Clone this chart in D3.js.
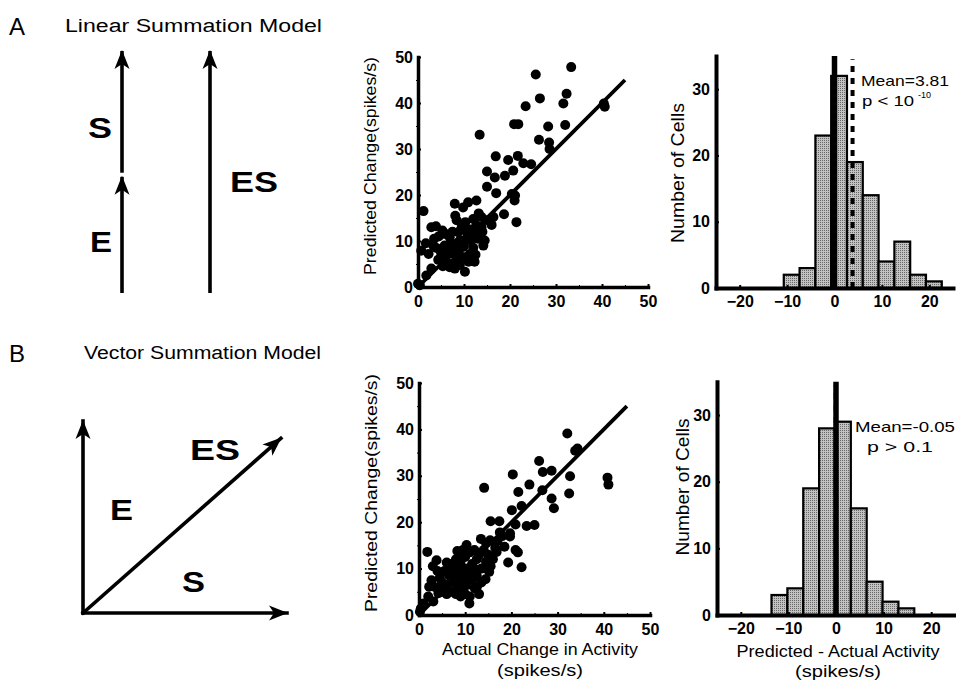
<!DOCTYPE html>
<html>
<head>
<meta charset="utf-8">
<script src="https://cdn.jsdelivr.net/npm/d3@7/dist/d3.min.js"></script>
<style>
body { margin: 0; background: #fff; }
svg text { font-family: "Liberation Sans", Arial, Helvetica, sans-serif; fill: #000; }
.tick text { font-weight: bold; font-size: 16px; }
</style>
</head>
<body>
<svg id="fig" width="956" height="683"></svg>
<script>
// ---- data ----
// A: linear summation, [actual change, predicted change] (spikes/s)
var linearPts = [
  [33.3,47.8],[25.6,46.2],[26.5,41.0],[23.4,39.3],[32.3,42.0],[31.6,39.9],[32.0,35.2],[28.3,34.9],
  [20.9,35.4],[21.8,35.4],[13.4,33.1],[26.3,32.0],[28.5,31.4],[28.6,30.0],[40.6,39.2],[40.4,39.9],
  [16.9,28.4],[19.6,27.6],[21.7,28.5],[22.9,26.9],[24.6,26.7],[15.0,25.1],[16.7,23.8],[18.9,24.2],
  [20.7,25.3],[15.0,21.8],[17.0,20.4],[20.4,20.2],[21.0,18.8],[21.1,19.9],[21.4,14.1],[18.7,15.8],
  [16.4,15.2],[1.2,16.5],[8.0,18.1],[9.8,17.3],[10.9,18.4],[12.7,18.8],[13.2,16.0],[8.1,15.5],
  [8.4,14.5],[10.3,14.1],[12.0,14.8],[14.5,10.1],[14.2,9.0],[10.2,3.3],[2.9,13.0],[3.9,13.2],
  [5.3,12.3],[1.7,9.5],[0.7,7.9],[3.3,9.0],[2.3,7.2],[4.4,5.9],[5.4,4.5],[2.9,4.0],[1.8,2.5],
  [0.0,0.7],[0.4,0.4],
  [6.5,8.7],[7.6,7.2],[8.4,5.8],[6.9,4.3],[9.1,10.1],[9.8,8.7],[10.5,6.5],[11.3,7.2],[11.6,10.1],
  [12.3,11.6],[11.6,6.5],[6.2,6.9],[5.8,9.0],[8.7,11.9],[10.2,12.3],[6.9,10.8],[7.6,5.1],[9.1,4.8],
  [13.8,13.0],[12.7,13.4],[13.8,15.2],[7.0,9.5],[8.0,8.0],[9.0,7.0],[10.0,9.0],[11.0,11.0],
  [7.5,12.0],[9.5,13.0],[11.5,12.5],[12.0,8.5],[6.0,6.0],[5.0,7.5],[4.0,8.5],[8.5,9.5],[10.5,10.5],
  [9.0,6.0],[7.0,4.5],[11.0,5.5],[12.5,7.0],[13.0,10.5],[14.0,12.0],[15.0,14.5],[16.0,13.5],
  [4.5,11.0],[6.0,11.5],[3.5,10.5],[8.0,4.0],[12.3,5.5]
];
// B: vector summation
var vectorPts = [
  [32.1,39.1],[33.8,35.4],[34.3,35.9],[26.0,33.2],[26.8,30.8],[28.7,31.1],[32.7,29.9],[32.5,26.2],
  [40.8,29.6],[41.0,28.1],[20.3,30.3],[23.9,28.1],[26.7,26.9],[21.5,26.5],[22.2,23.5],[28.7,25.1],
  [29.2,23.0],[14.1,27.4],[20.1,22.6],[23.3,19.2],[25.0,19.4],[20.9,19.5],[19.7,17.6],[19.7,16.9],
  [20.9,14.0],[21.4,13.5],[22.2,10.3],[19.3,11.3],[17.5,17.8],[15.5,20.2],[17.4,20.2],[18.5,14.7],
  [16.8,13.6],[15.4,16.1],[13.4,16.4],[14.4,7.7],[15.2,9.3],[10.9,2.5],[12.1,5.7],[1.8,13.6],
  [3.8,11.8],[8.3,13.8],[9.2,12.9],[10.3,15.1],[6.0,11.3],[2.7,7.5],[2.2,6.1],[0.4,1.4],[0.2,0.7],
  [3.1,2.9],[4.2,4.7],
  [4.5,8.0],[5.5,9.5],[6.5,8.5],[7.5,7.0],[8.5,6.0],[9.5,5.5],[10.5,6.5],[11.5,7.5],[12.5,8.5],
  [13.5,10.0],[14.5,11.5],[7.0,5.0],[8.0,4.5],[9.0,4.0],[10.0,4.5],[6.0,6.5],[5.0,7.0],[7.5,9.0],
  [8.5,10.0],[9.5,9.0],[10.5,10.0],[11.5,11.0],[12.5,12.0],[9.0,11.0],[10.0,12.5],[11.0,13.5],
  [12.0,14.0],[13.0,13.0],[14.0,14.0],[15.0,13.0],[16.5,14.5],[8.0,8.0],[9.0,7.0],[10.0,8.0],
  [11.0,9.0],[12.0,10.0],[6.5,10.0],[4.0,9.5],[3.0,10.5],[5.0,5.0],[6.0,4.5],[11.0,4.0],[12.5,6.0],
  [13.5,7.0],[3.5,6.0],[7.0,11.0],[8.0,12.0],[15.5,10.5],[16.0,12.0],[17.0,16.0],[18.0,17.0],
  [13.0,4.5],[2.0,4.0],[1.0,2.5],[14.5,15.5],[9.5,14.0]
];
var fitEnd = 45;                      // unity line drawn 0..45
var scatterTicks = [0, 10, 20, 30, 40, 50];
var scatterMinor = [5, 15, 25, 35, 45];

// histograms of predicted - actual
var binWidth = 10 / 3;
var linearBinStart = -10.7;
var linearCounts = [2, 3, 23, 32, 19, 14, 4, 7, 2, 1];
var vectorBinStart = -13.55;
var vectorCounts = [3, 4, 19, 28, 29, 16, 5, 2, 1];
var linearMean = 3.81, vectorMean = -0.05;
var histXTicks = [-20, -10, 0, 10, 20];
var histYTicks = [0, 10, 20, 30];
var histYMinor = [5, 15, 25];

var svg = d3.select("#fig");
svg.append("rect").attr("width", 956).attr("height", 683).attr("fill", "#fff");

var defs = svg.append("defs");
// halftone grey used for the bars
var pat = defs.append("pattern").attr("id", "stip")
    .attr("width", 2).attr("height", 2).attr("patternUnits", "userSpaceOnUse");
pat.append("rect").attr("width", 2).attr("height", 2).attr("fill", "#c2c2c2");
pat.append("rect").attr("width", 1).attr("height", 1).attr("fill", "#686868");

defs.append("marker").attr("id", "head")
    .attr("markerUnits", "userSpaceOnUse")
    .attr("viewBox", "0 -8 20 16")
    .attr("refX", 18).attr("refY", 0)
    .attr("markerWidth", 20).attr("markerHeight", 16)
    .attr("orient", "auto")
    .append("path")
    .attr("d", "M0,-7.5L19,0L0,7.5L5,0Z")
    .attr("fill", "#000");

function styleAxis(sel, w) {
  sel.select(".domain").attr("stroke-width", w).attr("stroke-linecap", "square");
  sel.selectAll(".tick line").attr("stroke-width", 2);
}

function drawScatter(pts, xRange, yRange, yLabelX, yLabelLen) {
  var x = d3.scaleLinear().domain([0, 50]).range(xRange);
  var y = d3.scaleLinear().domain([0, 50]).range(yRange);
  var g = svg.append("g");

  g.append("line")
    .attr("x1", x(0)).attr("y1", y(0))
    .attr("x2", x(fitEnd)).attr("y2", y(fitEnd))
    .attr("stroke", "#000").attr("stroke-width", 3.8);

  g.append("g").selectAll("circle")
    .data(pts)
    .join("circle")
    .attr("cx", d => x(d[0]))
    .attr("cy", d => y(d[1]))
    .attr("r", 5)
    .attr("fill", "#000");

  var xa = g.append("g").attr("transform", "translate(0," + y(0) + ")")
    .call(d3.axisBottom(x).tickValues(scatterTicks).tickSize(-3).tickSizeOuter(0).tickPadding(9));
  styleAxis(xa, 3.5);
  g.append("g").attr("transform", "translate(0," + y(0) + ")")
    .call(d3.axisBottom(x).tickValues(scatterMinor).tickSize(-2).tickFormat(""))
    .call(s => s.select(".domain").remove());

  var ya = g.append("g").attr("transform", "translate(" + x(0) + ",0)")
    .call(d3.axisLeft(y).tickValues(scatterTicks).tickSize(-3).tickSizeOuter(0).tickPadding(5));
  styleAxis(ya, 3.5);
  g.append("g").attr("transform", "translate(" + x(0) + ",0)")
    .call(d3.axisLeft(y).tickValues(scatterMinor).tickSize(2).tickFormat(""))
    .call(s => s.select(".domain").remove());

  g.append("text")
    .attr("transform", "translate(" + yLabelX + "," + ((yRange[0] + yRange[1]) / 2 - 6) + ") rotate(-90)")
    .attr("text-anchor", "middle")
    .attr("font-size", 17)
    .attr("textLength", yLabelLen).attr("lengthAdjust", "spacingAndGlyphs")
    .text("Predicted Change(spikes/s)");
  return {x: x, y: y};
}

function drawHist(counts, start, mean, xRange, yRange, yLabelX, yLabelY, yLabelLen) {
  var x = d3.scaleLinear().domain([-25, 25]).range(xRange);
  var y = d3.scaleLinear().domain([0, 35]).range(yRange);
  var g = svg.append("g");
  var bins = counts.map((c, i) => ({x0: start + i * binWidth, x1: start + (i + 1) * binWidth, n: c}));

  g.append("g").selectAll("rect")
    .data(bins)
    .join("rect")
    .attr("x", d => x(d.x0))
    .attr("width", d => x(d.x1) - x(d.x0))
    .attr("y", d => y(d.n))
    .attr("height", d => y(0) - y(d.n))
    .attr("fill", "url(#stip)")
    .attr("stroke", "#000")
    .attr("stroke-width", 2.2);

  // zero line and mean line
  g.append("line")
    .attr("x1", x(0)).attr("x2", x(0))
    .attr("y1", y(0)).attr("y2", y(35))
    .attr("stroke", "#000").attr("stroke-width", 5.5);
  g.append("line")
    .attr("x1", x(mean)).attr("x2", x(mean))
    .attr("y1", y(0)).attr("y2", y(34.5))
    .attr("stroke", "#000").attr("stroke-width", 4)
    .attr("stroke-dasharray", "6,6");

  var xa = g.append("g").attr("transform", "translate(0," + y(0) + ")")
    .call(d3.axisBottom(x).tickValues(histXTicks).tickSize(-3).tickSizeOuter(0).tickPadding(8)
      .tickFormat(d3.format("d")));
  styleAxis(xa, 4);
  var ya = g.append("g").attr("transform", "translate(" + x(-25) + ",0)")
    .call(d3.axisLeft(y).tickValues(histYTicks).tickSize(-3).tickSizeOuter(0).tickPadding(6));
  styleAxis(ya, 4);
  g.append("g").attr("transform", "translate(" + x(-25) + ",0)")
    .call(d3.axisLeft(y).tickValues(histYMinor).tickSize(-2).tickFormat(""))
    .call(s => s.select(".domain").remove());

  g.append("text")
    .attr("transform", "translate(" + yLabelX + "," + yLabelY + ") rotate(-90)")
    .attr("text-anchor", "middle")
    .attr("font-size", 18)
    .attr("textLength", yLabelLen).attr("lengthAdjust", "spacingAndGlyphs")
    .text("Number of Cells");
  return {x: x, y: y};
}

// ---- panel titles ----
function title(letter, name, yBase, nameX, nameLen) {
  svg.append("text").attr("x", 9).attr("y", yBase + 3).attr("font-size", 24).text(letter);
  svg.append("text").attr("x", nameX).attr("y", yBase).attr("font-size", 18)
    .attr("textLength", nameLen).attr("lengthAdjust", "spacingAndGlyphs").text(name);
}
title("A", "Linear Summation Model", 32, 65, 257);
title("B", "Vector Summation Model", 359, 84, 237);

// ---- schematic vectors ----
var linearArrows = [
  {name: "E", col: 0, from: 0, to: 0.48},
  {name: "S", col: 0, from: 0.497, to: 1},
  {name: "ES", col: 1, from: 0, to: 1}
];
var vectorArrows = [
  {name: "E", dx: 0, dy: 1},
  {name: "S", dx: 1, dy: 0},
  {name: "ES", dx: 0.97, dy: 0.91}
];
var colX = d3.scaleLinear().domain([0, 1]).range([122, 210]);
var aY = d3.scaleLinear().domain([0, 1]).range([293, 51]);
svg.append("g").selectAll("line")
  .data(linearArrows)
  .join("line")
  .attr("x1", d => colX(d.col)).attr("x2", d => colX(d.col))
  .attr("y1", d => aY(d.from)).attr("y2", d => aY(d.to))
  .attr("stroke", "#000").attr("stroke-width", 3.6)
  .attr("marker-end", "url(#head)");

var bX = d3.scaleLinear().domain([0, 1]).range([83, 287]);
var bY = d3.scaleLinear().domain([0, 1]).range([613, 421]);
svg.append("g").selectAll("line")
  .data(vectorArrows)
  .join("line")
  .attr("x1", bX(0)).attr("y1", bY(0))
  .attr("x2", d => bX(d.dx)).attr("y2", d => bY(d.dy))
  .attr("stroke", "#000").attr("stroke-width", 3.6)
  .attr("stroke-linecap", "square")
  .attr("marker-end", "url(#head)");

function bigLabel(t, x, y, len) {
  svg.append("text").attr("x", x).attr("y", y).attr("font-size", 30).attr("font-weight", "bold")
    .attr("textLength", len).attr("lengthAdjust", "spacingAndGlyphs").text(t);
}
bigLabel("S", 88, 138, 24);
bigLabel("E", 90, 252, 22);
bigLabel("ES", 230, 192, 48);
bigLabel("ES", 190, 460, 50);
bigLabel("E", 110, 520, 23);
bigLabel("S", 182, 592, 23);

// ---- plots ----
drawScatter(linearPts, [418, 648], [287, 57], 376, 218);
drawScatter(vectorPts, [419, 650], [615, 383], 377, 238);
drawHist(linearCounts, linearBinStart, linearMean, [716, 953], [288, 56], 684, 173, 140);
drawHist(vectorCounts, vectorBinStart, vectorMean, [717, 955], [615, 381.7], 689, 487, 137);

// statistics text
function stat(t, x, y, len) {
  return svg.append("text").attr("x", x).attr("y", y).attr("font-size", 15)
    .attr("textLength", len).attr("lengthAdjust", "spacingAndGlyphs").text(t);
}
stat("Mean=3.81", 861, 86, 88);
stat("p < 10", 862, 106, 52);
svg.append("text").attr("x", 918).attr("y", 98).attr("font-size", 9).text("-10");
stat("Mean=-0.05", 855, 432, 100);
stat("p > 0.1", 867, 452, 66);

// x-axis captions
function caption(t, cx, y, len) {
  svg.append("text").attr("x", cx).attr("y", y).attr("text-anchor", "middle").attr("font-size", 17)
    .attr("textLength", len).attr("lengthAdjust", "spacingAndGlyphs").text(t);
}
caption("Actual Change in Activity", 540, 655, 196);
caption("(spikes/s)", 540, 676, 86);
caption("Predicted - Actual Activity", 838, 657, 203);
caption("(spikes/s)", 838, 677, 86);
</script>
</body>
</html>
